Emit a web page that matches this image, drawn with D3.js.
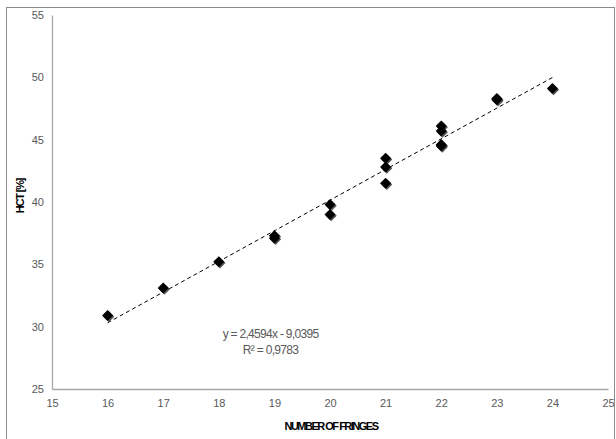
<!DOCTYPE html>
<html>
<head>
<meta charset="utf-8">
<script src="https://cdn.jsdelivr.net/npm/d3@7"></script>
<style>
  body { margin: 0; background: #fff; }
  text { font-family: "Liberation Sans Narrow", "Liberation Sans", Arial, sans-serif; }
</style>
</head>
<body>
<svg id="viz" width="616" height="439"></svg>
<script>
// data
var fringes = [16, 17, 18, 19, 19, 20, 20, 21, 21, 21, 22, 22, 22, 22, 23, 23, 24];
var hct     = [30.9, 33.1, 35.2, 37.3, 37.1, 39.8, 39.0, 43.5, 42.8, 41.5, 46.1, 45.7, 44.6, 44.5, 48.3, 48.2, 49.1];
var xTicks = [15, 16, 17, 18, 19, 20, 21, 22, 23, 24, 25];
var yTicks = [25, 30, 35, 40, 45, 50, 55];
var slope = 2.4594, intercept = -9.0395;
var eqLabel = "y = 2,4594x - 9,0395";
var r2Label = "R\u00b2 = 0,9783";

var svg = d3.select("#viz");
var margin = { top: 15, right: 8, bottom: 50, left: 52 };
var w = 616 - margin.left - margin.right,
    h = 439 - margin.top - margin.bottom;

// chart frame
svg.append("rect")
    .attr("x", 6.5).attr("y", 7.5)
    .attr("width", 608).attr("height", 440)
    .attr("fill", "none").attr("stroke", "#8c8c8c").attr("stroke-width", 1);

var g = svg.append("g").attr("transform", "translate(" + margin.left + "," + margin.top + ")");

var xScale = d3.scaleLinear().domain([15, 25]).range([0, w]),
    yScale = d3.scaleLinear().domain([25, 55]).range([h, 0]);

var xAxis = d3.axisBottom(xScale).tickValues(xTicks).tickSize(0).tickPadding(10),
    yAxis = d3.axisLeft(yScale).tickValues(yTicks).tickSize(0).tickPadding(8);

g.append("g").attr("class", "x axis")
    .attr("transform", "translate(0," + h + ")")
    .call(xAxis);
g.append("g").attr("class", "y axis")
    .call(yAxis);

g.selectAll(".axis path").attr("stroke", "#a6a6a6").attr("stroke-width", 1.3);
g.selectAll(".axis text").attr("fill", "#595959").style("font-size", "11px");

// trendline
var tl = [16, 24].map(function (x) { return [x, slope * x + intercept]; });
g.append("path")
    .datum(tl)
    .attr("d", d3.line().x(function (d) { return xScale(d[0]); }).y(function (d) { return yScale(d[1]); }))
    .attr("stroke", "#000").attr("stroke-width", 1)
    .attr("stroke-dasharray", "4,3").attr("fill", "none");

// points
var pts = fringes.map(function (f, i) { return { x: f, y: hct[i] }; });
var diamond = d3.symbol().type(d3.symbolDiamond2).size(78);
g.selectAll(".shadow")
    .data(pts).enter()
    .append("path")
    .attr("class", "shadow")
    .attr("transform", function (d) { return "translate(" + (xScale(d.x) + 1.2) + "," + (yScale(d.y) + 1.2) + ")"; })
    .attr("d", diamond)
    .attr("fill", "#555");
g.selectAll(".pt")
    .data(pts).enter()
    .append("path")
    .attr("class", "pt")
    .attr("transform", function (d) { return "translate(" + xScale(d.x) + "," + yScale(d.y) + ")"; })
    .attr("d", diamond)
    .attr("fill", "#000");

// equation
g.append("text")
    .attr("x", xScale(18.93)).attr("y", yScale(29.1))
    .attr("text-anchor", "middle")
    .attr("fill", "#595959").style("font-size", "12px").style("letter-spacing", "-0.7px")
    .text(eqLabel);
g.append("text")
    .attr("x", xScale(18.93)).attr("y", yScale(27.8))
    .attr("text-anchor", "middle")
    .attr("fill", "#595959").style("font-size", "12px").style("letter-spacing", "-0.7px")
    .text(r2Label);

// axis titles
svg.append("text")
    .attr("x", 331).attr("y", 430)
    .attr("text-anchor", "middle")
    .style("font-size", "11px").style("font-weight", "bold").style("letter-spacing", "-1.5px")
    .text("NUMBER OF FRINGES");
svg.append("text")
    .attr("transform", "translate(24,196) rotate(-90)")
    .attr("text-anchor", "middle")
    .style("font-size", "11px").style("font-weight", "bold").style("letter-spacing", "-1.2px")
    .text("HCT [%]");
</script>
</body>
</html>
